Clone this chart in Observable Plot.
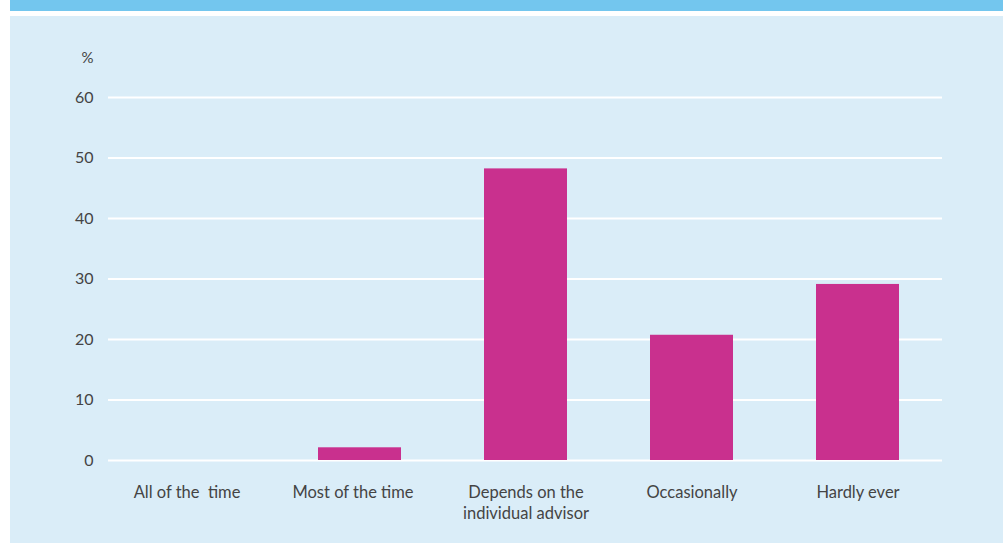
<!DOCTYPE html>
<html>
<head>
<meta charset="utf-8">
<script src="https://cdn.jsdelivr.net/npm/d3@7"></script>
<script src="https://cdn.jsdelivr.net/npm/@observablehq/plot@0.6"></script>
<style>
  html, body { margin: 0; padding: 0; background: #ffffff; }
  #wrap { position: relative; width: 1003px; height: 543px; overflow: hidden; }
  #band { position: absolute; left: 10px; top: 0; width: 993px; height: 11px; background: #73c6ee; }
  #panel { position: absolute; left: 10px; top: 16px; width: 993px; height: 527px; background: #daedf8; }
  #chart { position: absolute; left: 0; top: 0; }
  #chart svg { background: transparent; }
</style>
</head>
<body>
<div id="wrap">
  <div id="band"></div>
  <div id="panel"></div>
  <div id="chart"></div>
</div>
<script>
// How often advice is followed, share of respondents (%)
const categories = [
  "All of the  time",
  "Most of the time",
  "Depends on the\nindividual advisor",
  "Occasionally",
  "Hardly ever"
];
const shares = [0, 2.1, 48.2, 20.7, 29.1];
const yTicks = [0, 10, 20, 30, 40, 50, 60];

const rows = categories.map((c, i) => ({category: c, share: shares[i]}));

const textColor = "#444444";
const font = "Lato, 'Open Sans', sans-serif";
const xLabelStyle = {tickSize: 0, tickPadding: 22, fontSize: 16.5, fill: textColor, label: null, lineHeight: 1.3};

const chart = Plot.plot({
  width: 1003,
  height: 543,
  marginLeft: 108,
  marginRight: 61,
  marginTop: 97,
  marginBottom: 83,
  style: {background: "transparent", fontFamily: font, fontSize: "16px", color: textColor},
  x: {domain: categories, paddingInner: 0.5, paddingOuter: 0.25, label: null},
  y: {domain: [0, 60], label: null},
  marks: [
    Plot.gridY(yTicks, {stroke: "#ffffff", strokeOpacity: 1, strokeWidth: 2}),
    Plot.barY(rows, {x: "category", y: "share", fill: "#c9308e"}),
    Plot.axisY(yTicks, {tickSize: 0, tickPadding: 15, fontSize: 16, fill: textColor, label: null}),
    // the two "...the time" labels sit slightly left of their band centres
    Plot.axisX(categories.slice(0, 2), {...xLabelStyle, dx: -7}),
    Plot.axisX(categories.slice(2), xLabelStyle),
    Plot.text(["%"], {frameAnchor: "top-left", dx: -15, dy: -45, textAnchor: "end", fontSize: 15, fill: textColor})
  ]
});

document.getElementById("chart").appendChild(chart);
</script>
</body>
</html>
